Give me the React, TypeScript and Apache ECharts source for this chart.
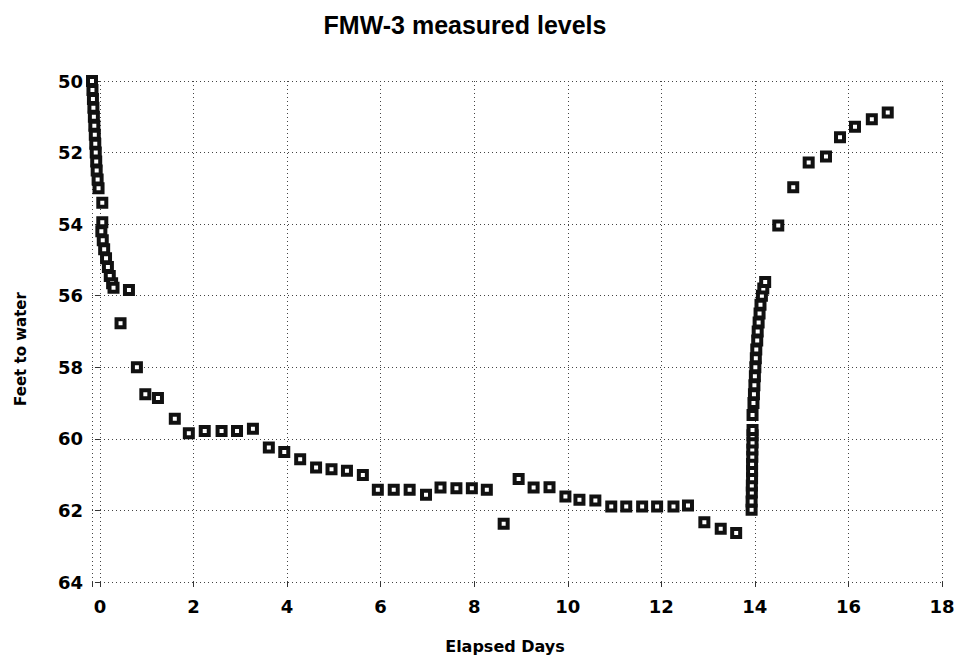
import React, { useEffect, useRef } from "react";
import * as echarts from "echarts";

const TITLE = "FMW-3 measured levels";
const X_NAME = "Elapsed Days";
const Y_NAME = "Feet to water";

// Early drawdown (elapsed days, feet to water)
const earlyDays = [-0.17, -0.16, -0.15, -0.14, -0.13, -0.12, -0.11, -0.1, -0.09, -0.08, -0.07, -0.05, -0.03, 0.05, 0.05, 0.03, 0.06, 0.09, 0.13, 0.17, 0.21, 0.26, 0.29, 0.62, 0.44];
const earlyLevels = [50.0, 50.25, 50.5, 50.75, 51.0, 51.25, 51.5, 51.75, 52.0, 52.25, 52.5, 52.75, 53.0, 53.4, 53.95, 54.2, 54.45, 54.7, 54.95, 55.2, 55.45, 55.65, 55.78, 55.84, 56.77];

// Pumping period
const pumpDays = [0.79, 0.97, 1.24, 1.6, 1.9, 2.24, 2.6, 2.93, 3.27, 3.61, 3.94, 4.28, 4.62, 4.95, 5.28, 5.62, 5.94, 6.28, 6.62, 6.97, 7.28, 7.62, 7.95, 8.27, 8.63, 8.95, 9.27, 9.61, 9.95, 10.25, 10.59, 10.93, 11.25, 11.59, 11.91, 12.26, 12.57, 12.92, 13.27, 13.6];
const pumpLevels = [58.0, 58.75, 58.86, 59.44, 59.84, 59.78, 59.78, 59.78, 59.72, 60.24, 60.37, 60.57, 60.8, 60.85, 60.89, 61.01, 61.42, 61.42, 61.42, 61.56, 61.36, 61.38, 61.38, 61.42, 62.37, 61.12, 61.36, 61.35, 61.61, 61.7, 61.72, 61.89, 61.89, 61.89, 61.89, 61.89, 61.86, 62.33, 62.51, 62.63];

// Recovery
const recoveryDays = [13.93, 13.93, 13.935, 13.935, 13.94, 13.94, 13.94, 13.945, 13.945, 13.95, 13.95, 13.95, 13.95, 13.97, 13.98, 13.99, 14.0, 14.01, 14.02, 14.03, 14.05, 14.06, 14.08, 14.1, 14.12, 14.15, 14.18, 14.22, 14.5, 14.82, 15.15, 15.52, 15.82, 16.14, 16.5, 16.84];
const recoveryLevels = [61.98, 61.75, 61.5, 61.3, 61.1, 60.9, 60.7, 60.5, 60.3, 60.1, 59.9, 59.75, 59.33, 59.0, 58.75, 58.5, 58.25, 58.0, 57.75, 57.5, 57.25, 57.0, 56.75, 56.5, 56.25, 56.0, 55.8, 55.62, 54.04, 52.97, 52.28, 52.11, 51.57, 51.28, 51.07, 50.88];

const X_MIN = -0.17;
const X_MAX = 18;
const Y_MIN = 50;
const Y_MAX = 64;

function zip(xs: number[], ys: number[]) {
  return xs.map((x, i) => [x, ys[i]]);
}

export default function App() {
  const ref = useRef<HTMLDivElement>(null);
  useEffect(() => {
    if (!ref.current) return;
    const chart = echarts.init(ref.current, undefined, { renderer: "svg" });
    const data = [
      ...zip(earlyDays, earlyLevels),
      ...zip(pumpDays, pumpLevels),
      ...zip(recoveryDays, recoveryLevels),
    ];
    const gridLine = { show: true, lineStyle: { color: "#444", type: [1, 3] as any, width: 1 } };
    chart.setOption({
      animation: false,
      backgroundColor: "#fff",
      grid: { left: 92, right: 17, top: 81, bottom: 80, containLabel: false },
      graphic: [
        {
          type: "text",
          x: 465,
          y: 25,
          style: {
            text: TITLE,
            font: "bold 25px 'Liberation Sans', Arial, sans-serif",
            fill: "#000",
            textAlign: "center",
            textVerticalAlign: "middle",
          },
        },
        {
          type: "text",
          x: 505,
          y: 646,
          style: {
            text: X_NAME,
            font: "bold 16px 'DejaVu Sans', sans-serif",
            fill: "#000",
            textAlign: "center",
            textVerticalAlign: "middle",
          },
        },
        {
          type: "text",
          x: 21,
          y: 349,
          rotation: Math.PI / 2,
          style: {
            text: Y_NAME,
            font: "bold 15px 'DejaVu Sans', sans-serif",
            fill: "#000",
            textAlign: "center",
            textVerticalAlign: "middle",
          },
        },
      ],
      xAxis: {
        type: "value",
        min: X_MIN,
        max: X_MAX,
        splitNumber: 9,
        axisLine: { show: false },
        axisTick: { show: true, length: 5, lineStyle: { color: "#333" } },
        splitLine: gridLine,
        axisLabel: {
          margin: 15,
          color: "#000",
          fontFamily: "DejaVu Sans",
          fontWeight: "bold",
          fontSize: 18,
          formatter: (v: number) => (Math.abs(v - Math.round(v)) < 1e-6 ? String(Math.round(v)) : ""),
        },
      },
      yAxis: {
        type: "value",
        inverse: true,
        min: Y_MIN,
        max: Y_MAX,
        interval: 2,
        axisLine: { show: false },
        axisTick: { show: true, length: 5, lineStyle: { color: "#333" } },
        splitLine: gridLine,
        axisLabel: {
          margin: 9,
          color: "#000",
          fontFamily: "DejaVu Sans",
          fontWeight: "bold",
          fontSize: 18,
        },
      },
      series: [
        {
          type: "scatter",
          data,
          clip: false,
          symbol: "rect",
          symbolSize: 8,
          itemStyle: { color: "#fff", borderColor: "#111", borderWidth: 4, opacity: 1 },
        },
      ],
    });
    return () => chart.dispose();
  }, []);
  return <div ref={ref} style={{ width: 959, height: 662, position: "absolute", left: 0, top: 0 }} />;
}
